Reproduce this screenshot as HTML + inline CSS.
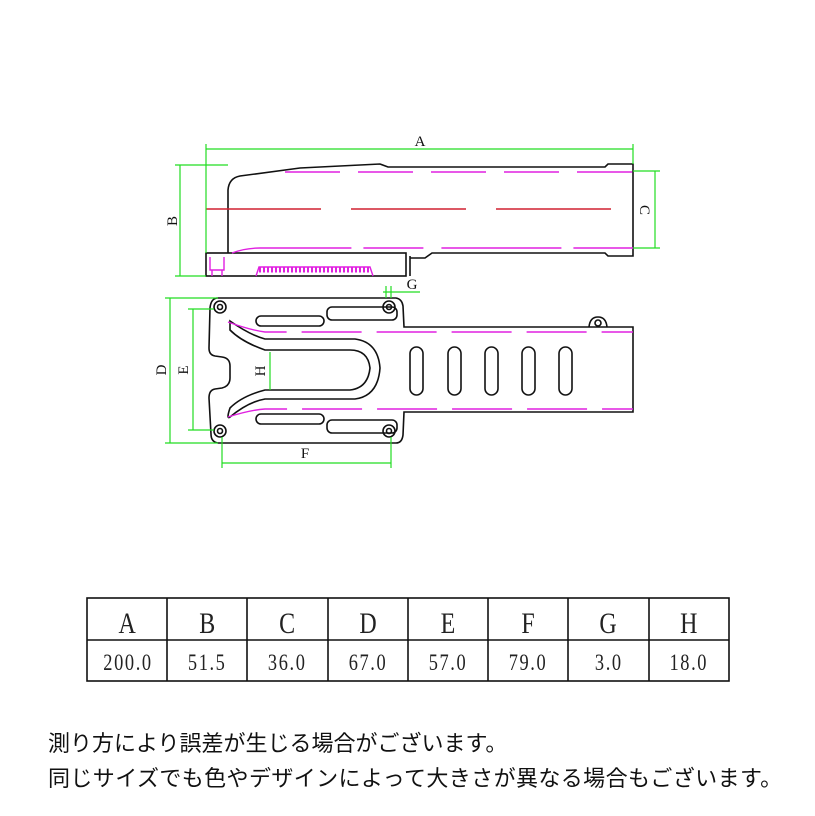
<!DOCTYPE html>
<html><head><meta charset="utf-8"><style>
body{margin:0;background:#fff;width:815px;height:816px;overflow:hidden;position:relative}
svg{position:absolute;left:0;top:0}
.t{position:absolute;left:48px;font:22px "Liberation Sans","Noto Sans CJK JP",sans-serif;color:#111;white-space:nowrap}
</style></head><body>
<svg width="815" height="816" viewBox="0 0 815 816" font-family="Liberation Serif, serif">
<g fill="none" stroke="#111" stroke-width="1.6">
<path d="M228 253 L228 190 Q229 178 240 176 L300 168 L380 164 L388 167 L605 167 L608 164 L633 164 L633 256 L608 256 L605 253 L432 253 L425 258 L410 258"/>
<rect x="206" y="253" width="200" height="23"/>
<line x1="410" y1="256" x2="410" y2="276"/>
<path d="M218 298 L396 298 Q402 299 403 306 L404 327 L633 327 L633 412 L404 412 L403 435 Q402 443 396 443 L218 443 Q211 442 211 434 L209 398 Q209 390 215 389 L222 388 Q230 386 230 378 L230 366 Q230 358 222 357 L215 356 Q209 355 209 348 L210 308 Q211 298 218 298 Z"/>
<path d="M230 321 Q250 335 265 339 L355 339 Q378 342 380 368 Q378 396 355 399 L265 399 Q248 402 230 417 Q226 420 230 408 Q242 396 265 390 L350 390 Q368 388 370 368 Q368 350 350 350 L265 350 Q242 342 230 330 Z"/>
<rect x="256" y="316" width="68" height="10" rx="5"/><rect x="327" y="307" width="70" height="13" rx="5"/>
<rect x="256" y="414" width="68" height="10" rx="5"/><rect x="327" y="420" width="70" height="13" rx="5"/>
<circle cx="220" cy="307" r="6"/><circle cx="220" cy="307" r="2.5"/>
<circle cx="389" cy="307" r="6"/><circle cx="389" cy="307" r="2.5"/>
<circle cx="220" cy="431" r="6"/><circle cx="220" cy="431" r="2.5"/>
<circle cx="389" cy="431" r="6"/><circle cx="389" cy="431" r="2.5"/>
<path d="M589 327 Q590 317 598 317 Q606 317 607 327"/><circle cx="598" cy="323" r="3"/>
<rect x="410" y="347" width="13" height="48" rx="6.5"/><rect x="448" y="347" width="13" height="48" rx="6.5"/>
<rect x="485" y="347" width="13" height="48" rx="6.5"/><rect x="522" y="347" width="13" height="48" rx="6.5"/>
<rect x="559" y="347" width="13" height="48" rx="6.5"/>
</g>
<g fill="none" stroke="#e020e0" stroke-width="1.4">
<path d="M285 172 L633 172" stroke-dasharray="55 18"/>
<path d="M232 253 Q245 248 260 248 L633 248" stroke-dasharray="120 12 60 18"/>
<path d="M256 276 L259 267 L370 267 L373 276"/>
<path d="M259 270 L370 270" stroke-dasharray="2 2" stroke-width="5"/>
<path d="M210 257 L210 270 L224 270 L224 257 M212 270 L212 276 M222 270 L222 276"/>
<path d="M228 322 Q250 330 265 332 L633 332" stroke-dasharray="60 15"/>
<path d="M228 417 Q250 410 265 409 L633 409" stroke-dasharray="60 15"/>
</g>
<path d="M206 209 L633 209" stroke="#d02030" stroke-width="1.4" fill="none" stroke-dasharray="115 30"/>
<g stroke="#22dd22" stroke-width="1.2" fill="none">
<line x1="206" y1="149" x2="633" y2="149"/><line x1="206" y1="144" x2="206" y2="253"/><line x1="633" y1="144" x2="633" y2="164"/>
<line x1="180" y1="165" x2="180" y2="276"/><line x1="175" y1="165" x2="228" y2="165"/><line x1="175" y1="276" x2="206" y2="276"/>
<line x1="655" y1="171" x2="655" y2="248"/><line x1="633" y1="171" x2="660" y2="171"/><line x1="633" y1="248" x2="660" y2="248"/>
<line x1="383" y1="292" x2="420" y2="292"/><line x1="386" y1="286" x2="386" y2="298"/><line x1="391" y1="286" x2="391" y2="298"/>
<line x1="170" y1="298" x2="170" y2="443"/><line x1="165" y1="298" x2="218" y2="298"/><line x1="165" y1="443" x2="218" y2="443"/>
<line x1="193" y1="309" x2="193" y2="430"/><line x1="188" y1="309" x2="214" y2="309"/><line x1="188" y1="430" x2="214" y2="430"/>
<line x1="270" y1="352" x2="270" y2="390"/>
<line x1="222" y1="463" x2="391" y2="463"/><line x1="222" y1="437" x2="222" y2="468"/><line x1="391" y1="437" x2="391" y2="468"/>
</g>
<g font-size="15" fill="#111" text-anchor="middle">
<text x="420" y="146">A</text><text x="412" y="289">G</text><text x="305" y="458">F</text>
<text transform="translate(177 221) rotate(-90)">B</text>
<text transform="translate(640 210) rotate(90)">C</text>
<text transform="translate(166 370) rotate(-90)">D</text>
<text transform="translate(188 370) rotate(-90)">E</text>
<text transform="translate(265 371) rotate(-90)">H</text>
</g>
<g stroke="#111" stroke-width="1.6" fill="none">
<rect x="87" y="598" width="642" height="83"/>
<line x1="87" y1="640" x2="729" y2="640"/>
<line x1="167" y1="598" x2="167" y2="681"/><line x1="247" y1="598" x2="247" y2="681"/>
<line x1="328" y1="598" x2="328" y2="681"/><line x1="408" y1="598" x2="408" y2="681"/>
<line x1="488" y1="598" x2="488" y2="681"/><line x1="568" y1="598" x2="568" y2="681"/>
<line x1="649" y1="598" x2="649" y2="681"/>
</g>
<g fill="#222" text-anchor="middle">
<g font-size="30" transform="scale(0.8 1)">
<text x="159" y="633">A</text><text x="259" y="633">B</text><text x="359" y="633">C</text><text x="460" y="633">D</text>
<text x="560" y="633">E</text><text x="660" y="633">F</text><text x="760" y="633">G</text><text x="861" y="633">H</text>
</g>
<g font-size="23" letter-spacing="2" transform="scale(0.8 1)">
<text x="160" y="670">200.0</text><text x="259" y="670">51.5</text><text x="359" y="670">36.0</text><text x="460" y="670">67.0</text>
<text x="560" y="670">57.0</text><text x="660" y="670">79.0</text><text x="761" y="670">3.0</text><text x="861" y="670">18.0</text>
</g>
</g>
</svg>
<div class="t" style="top:726px">測り方により誤差が生じる場合がございます。</div>
<div class="t" style="top:761px;letter-spacing:0.4px">同じサイズでも色やデザインによって大きさが異なる場合もございます。</div>
</body></html>
